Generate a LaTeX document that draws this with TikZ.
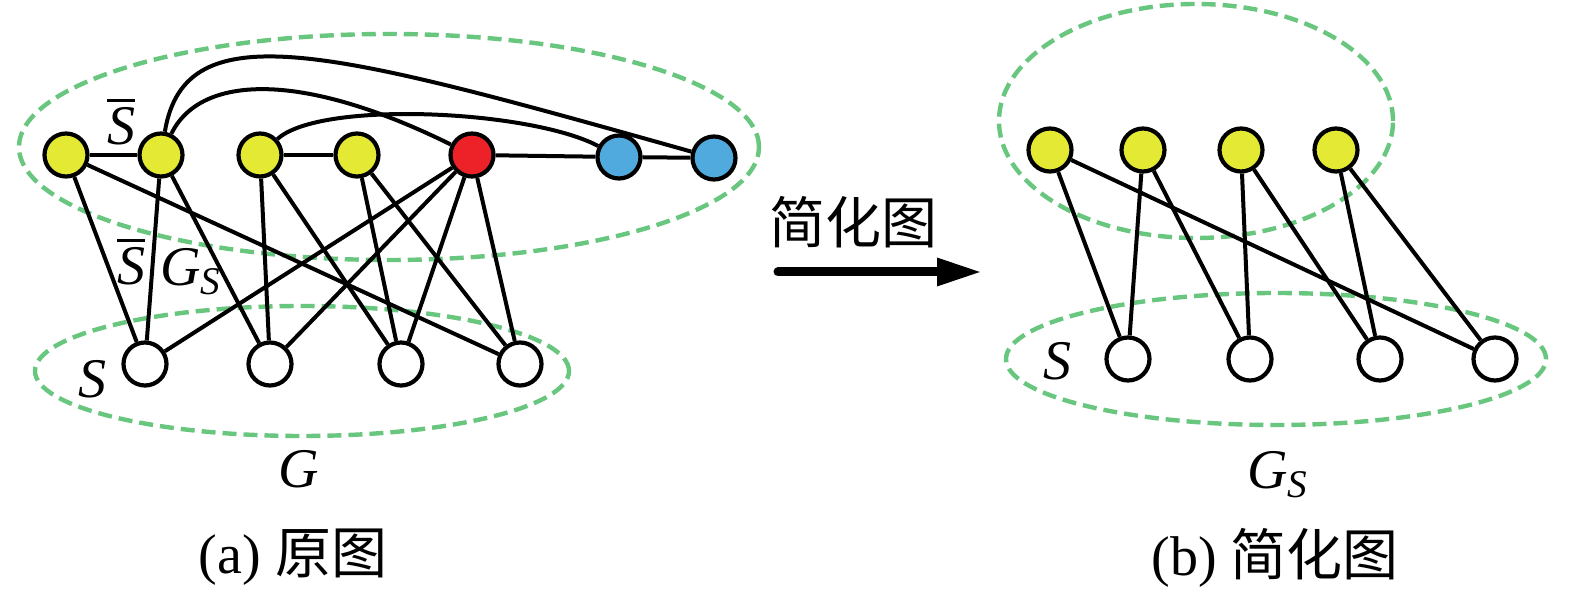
\documentclass[tikz,border=0pt]{standalone}
\usepackage{fontspec}
\setmainfont{Liberation Serif}
\newfontfamily\cjk{Noto Sans CJK SC}
\usetikzlibrary{arrows.meta}
\definecolor{ylw}{RGB}{228,234,52}
\definecolor{rdn}{RGB}{236,34,40}
\definecolor{blu}{RGB}{80,170,222}
\definecolor{grn}{RGB}{104,198,126}
\newcommand\myover[1]{\vbox{\hrule height 1.3pt\kern2.5pt\hbox{#1}}}
\begin{document}
\begin{tikzpicture}[x=0.5pt,y=-0.5pt,
  vtx/.style={circle,draw=black,line width=2.1pt,minimum size=21.5pt,inner sep=0pt},
  yv/.style={vtx,fill=ylw},
  rv/.style={vtx,fill=rdn},
  bv/.style={vtx,fill=blu},
  wv/.style={vtx,fill=white},
  edge/.style={line width=2pt,black},
  grp/.style={draw=grn,line width=2.2pt,dash pattern=on 7pt off 3.5pt},
  lbl/.style={inner sep=0pt,font=\fontsize{28}{30}\selectfont},
  captxt/.style={inner sep=0pt,font=\fontsize{28}{30}\selectfont}]
\useasboundingbox (0,0) rectangle (1575,603);
% group ellipses
\draw[grp] (389,147) ellipse [x radius=185pt, y radius=56.5pt];
\draw[grp] (302,371) ellipse [x radius=133.5pt, y radius=32.5pt];
\draw[grp] (1196,121) ellipse [x radius=98.5pt, y radius=58.5pt];
\draw[grp] (1276,359) ellipse [x radius=135pt, y radius=33pt];
% left graph nodes
\node[yv] (a1) at (66,155) {};
\node[yv] (a2) at (161,155) {};
\node[yv] (a3) at (260,155) {};
\node[yv] (a4) at (357,155) {};
\node[rv] (r1) at (472,155) {};
\node[bv] (c1) at (619,157) {};
\node[bv] (c2) at (714,158) {};
\node[wv] (b1) at (145,364) {};
\node[wv] (b2) at (270,364) {};
\node[wv] (b3) at (401,364) {};
\node[wv] (b4) at (520,364) {};
% left graph edges
\draw[edge] (a1) -- (a2);
\draw[edge] (a3) -- (a4);
\draw[edge] (r1) -- (c1);
\draw[edge] (c1) -- (c2);
\draw[edge] (a2) .. controls (185,10) and (330,50) .. (c2);
\draw[edge] (a2) .. controls (200,75) and (300,70) .. (r1);
\draw[edge] (a3) .. controls (320,100) and (530,110) .. (c1);
\draw[edge] (a1) -- (b1);
\draw[edge] (a1) -- (b4);
\draw[edge] (a2) -- (b1);
\draw[edge] (a2) -- (b2);
\draw[edge] (a3) -- (b2);
\draw[edge] (a3) -- (b3);
\draw[edge] (a4) -- (b3);
\draw[edge] (a4) -- (b4);
\draw[edge] (r1) -- (b1);
\draw[edge] (r1) -- (b2);
\draw[edge] (r1) -- (b3);
\draw[edge] (r1) -- (b4);
% left labels
\node[lbl] (sb1) at (121,122) {\myover{\textit{S}}};
\node[lbl] (sb2) at (131,262) {\myover{\textit{S}}};
\node[lbl,anchor=west] (gs1) at (160,272) {\textit{G}\textsubscript{\textit{S}}};
\node[lbl] (s1) at (92,379) {\textit{S}};
\node[lbl] (g1) at (299,469) {\textit{G}};
\node[captxt] (capa) at (293,557) {(a) {\cjk 原图}};
% arrow
\coordinate (arrS) at (778,272);
\coordinate (arrE) at (982,272);
\draw[line width=4.5pt,line cap=round,-{Triangle[length=22.5pt,width=13pt]}] (arrS) -- (arrE);
\node[captxt] (simp) at (853,222) {\cjk 简化图};
% right graph nodes
\node[yv] (d1) at (1050,150) {};
\node[yv] (d2) at (1143,150) {};
\node[yv] (d3) at (1241,150) {};
\node[yv] (d4) at (1336,150) {};
\node[wv] (e1) at (1128,359) {};
\node[wv] (e2) at (1250,359) {};
\node[wv] (e3) at (1380,359) {};
\node[wv] (e4) at (1495,359) {};
\draw[edge] (d1) -- (e1);
\draw[edge] (d1) -- (e4);
\draw[edge] (d2) -- (e1);
\draw[edge] (d2) -- (e2);
\draw[edge] (d3) -- (e2);
\draw[edge] (d3) -- (e3);
\draw[edge] (d4) -- (e3);
\draw[edge] (d4) -- (e4);
% right labels
\node[lbl] (s2) at (1057,361) {\textit{S}};
\node[lbl,anchor=west] (g2) at (1247,475) {\textit{G}\textsubscript{\textit{S}}};
\node[captxt] (capb) at (1275,558) {(b) {\cjk 简化图}};
\end{tikzpicture}
\end{document}
